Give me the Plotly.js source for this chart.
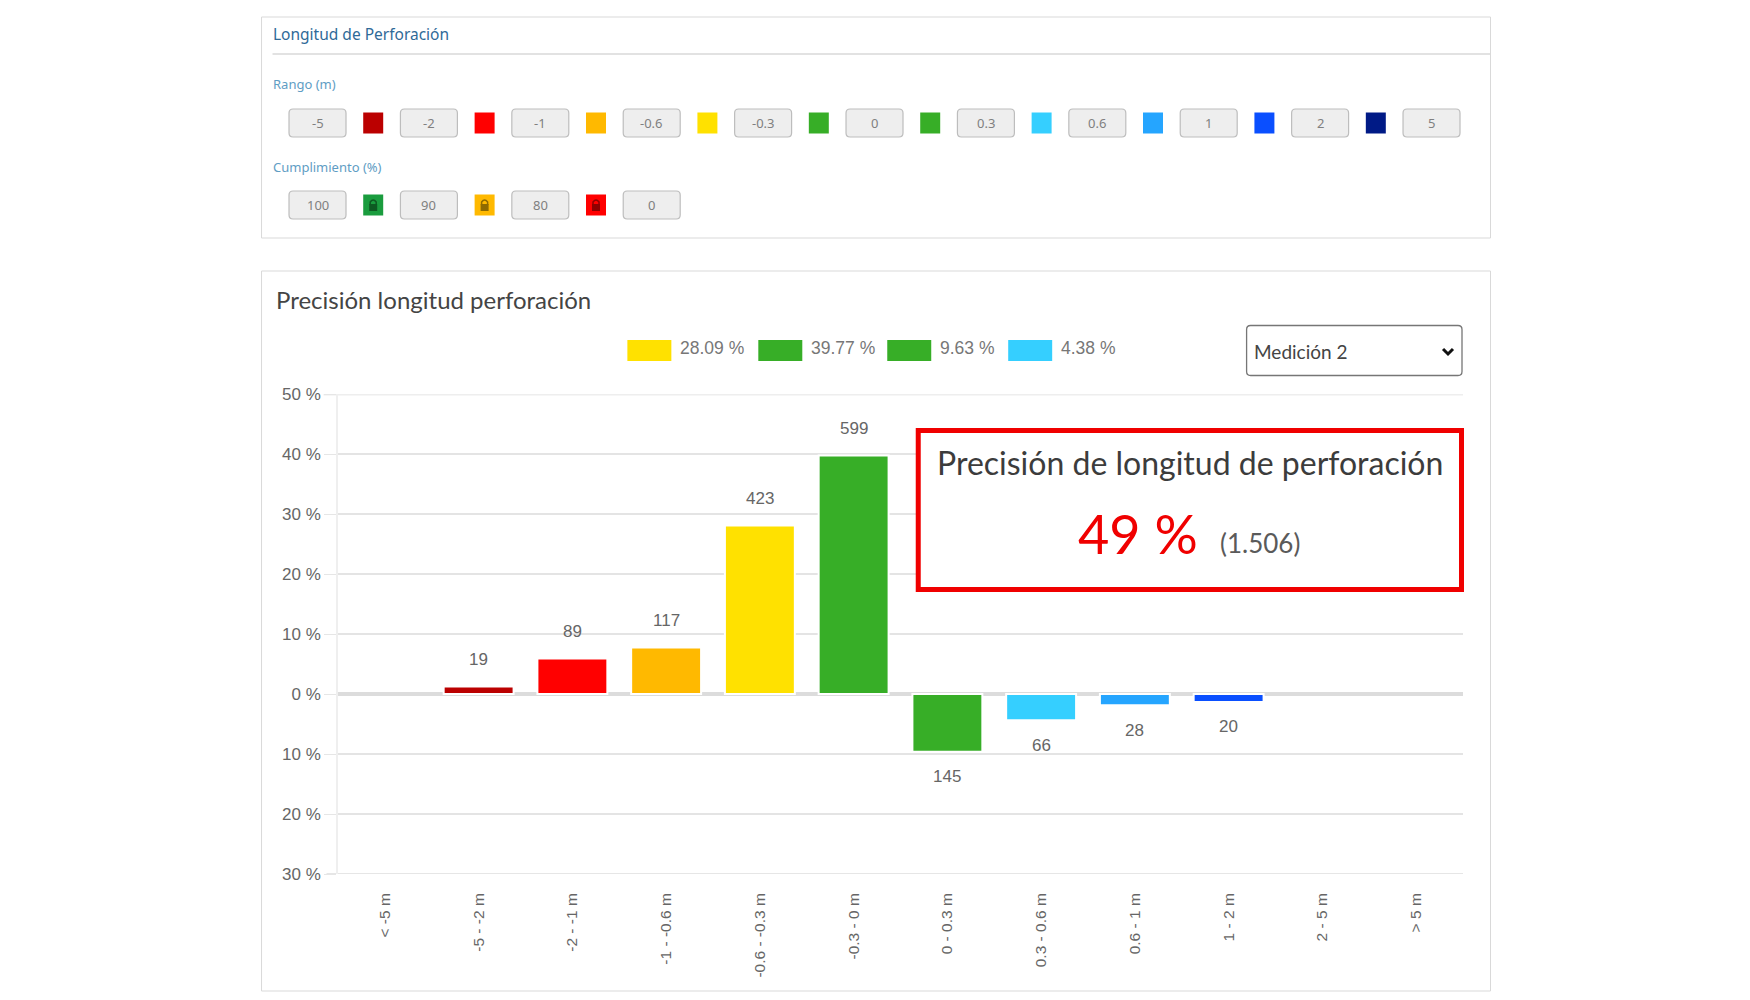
<!DOCTYPE html>
<html lang="es">
<head>
<meta charset="utf-8">
<title>Precisión longitud perforación</title>
<script src="https://cdn.plot.ly/plotly-3.0.1.min.js"></script>
<style>html,body{margin:0;padding:0;background:#fff}#chart{width:1750px;height:1000px}</style>
</head>
<body>
<div id="chart"></div>
<script>
// Chart data
const categories = ['&lt; -5 m','-5 - -2 m','-2 - -1 m','-1 - -0.6 m','-0.6 - -0.3 m','-0.3 - 0 m','0 - 0.3 m','0.3 - 0.6 m','0.6 - 1 m','1 - 2 m','2 - 5 m','> 5 m'];
const percents = [null,1.26,5.91,7.77,28.09,39.77,-9.63,-4.38,-1.86,-1.33,null,null];
const counts = [null,19,89,117,423,599,145,66,28,20,null,null];
const barColors = ['#bb0000','#bb0000','#ff0000','#ffb900','#ffe100','#37ae27','#37ae27','#35cfff','#25a5ff','#0a4fff','#001a86','#001a86'];
const yTickVals = [50,40,30,20,10,0,-10,-20,-30];
const yTickText = ['50 %','40 %','30 %','20 %','10 %','0 %','10 %','20 %','30 %'];
const legendLabels = ['28.09 %','39.77 %','9.63 %','4.38 %'];
const legendColors = ['#ffe100','#37ae27','#37ae27','#35cfff'];
// Threshold panel data
const rangeLabels = ['-5','-2','-1','-0.6','-0.3','0','0.3','0.6','1','2','5'];
const rangeColors = ['#bb0000','#ff0000','#ffb900','#ffe100','#37ae27','#37ae27','#35cfff','#25a5ff','#0a4fff','#001a86'];
const complianceLabels = ['100','90','80','0'];
const complianceColors = ['#1a9c3e','#ffb900','#ff0000'];
const lockColors = ['#0d5a22','#8f6a00','#8f0000'];

// Plot frame in page pixels
const L = 337.5, R = 1463, T = 394, B = 874;
const px = x => (x - L) / (R - L);
const py = y => (B - y) / (B - T);
const shapes = [], annotations = [];
const HEAD = 'Lato, Noto Sans, sans-serif';

function rect(x0, y0, x1, y1, fill, line, w) {
  shapes.push({type:'rect', xref:'paper', yref:'paper', x0:px(x0), x1:px(x1), y0:py(y0), y1:py(y1),
    fillcolor:fill, line:{color:line || fill, width:w === undefined ? 1 : w}});
}
function rrect(x0, y0, x1, y1, r, fill, line, w) {
  const X = v => px(v), Y = v => py(v);
  const p = `M ${X(x0+r)} ${Y(y0)} L ${X(x1-r)} ${Y(y0)} Q ${X(x1)} ${Y(y0)} ${X(x1)} ${Y(y0+r)} ` +
    `L ${X(x1)} ${Y(y1-r)} Q ${X(x1)} ${Y(y1)} ${X(x1-r)} ${Y(y1)} L ${X(x0+r)} ${Y(y1)} ` +
    `Q ${X(x0)} ${Y(y1)} ${X(x0)} ${Y(y1-r)} L ${X(x0)} ${Y(y0+r)} Q ${X(x0)} ${Y(y0)} ${X(x0+r)} ${Y(y0)} Z`;
  shapes.push({type:'path', xref:'paper', yref:'paper', path:p, fillcolor:fill, line:{color:line, width:w}});
}
function label(x, y, text, size, color, anchor, family) {
  annotations.push({xref:'paper', yref:'paper', x:px(x), y:py(y), text:text, showarrow:false,
    xanchor:anchor || 'left', yanchor:'middle', borderpad:0,
    font:{size:size, color:color, family:family || 'Noto Sans, sans-serif'}});
}
function lock(cx, cy, color) {
  rect(cx-4, cy-1, cx+4, cy+6, color, color, 0);
  shapes.push({type:'path', xref:'paper', yref:'paper',
    path:`M ${px(cx-3)} ${py(cy)} L ${px(cx-3)} ${py(cy-3)} Q ${px(cx)} ${py(cy-7)} ${px(cx+3)} ${py(cy-3)} L ${px(cx+3)} ${py(cy)}`,
    fillcolor:'rgba(0,0,0,0)', line:{color:color, width:1.5}});
}
function buttonRow(labels, colors, yMid, locks) {
  const step = 111.45, x0 = 288.5, w = 57, h = 28;
  labels.forEach((t, i) => {
    const x = x0 + i * step;
    rrect(x, yMid-h/2, x+w, yMid+h/2, 4, '#eeeeee', '#bdbdbd', 1.2);
    label(x+w/2, yMid, t, 13, '#808080', 'center');
    if (i < colors.length) {
      const cx = x + w/2 + step/2;
      rect(cx-10, yMid-10.5, cx+10, yMid+10.5, colors[i], colors[i], 0);
      if (locks) lock(cx, yMid, locks[i]);
    }
  });
}

// Top panel
rect(261, 17, 1490.5, 238, '#ffffff', '#d9d9d9', 1);
shapes.push({type:'line', xref:'paper', yref:'paper', x0:px(272), x1:px(1490), y0:py(54), y1:py(54), line:{color:'#e2e2e2', width:2}});
label(271, 34, 'Longitud de Perforación', 15.5, '#2f6a98');
label(271, 84, 'Rango (m)', 13, '#5f9dc4');
label(271, 167, 'Cumplimiento (%)', 13, '#5f9dc4');
buttonRow(rangeLabels, rangeColors, 123, null);
buttonRow(complianceLabels, complianceColors, 205, lockColors);

// Chart panel
shapes.push({type:'path', xref:'paper', yref:'paper', layer:'below',
  path:`M ${px(261)} ${py(271)} L ${px(1490.5)} ${py(271)} L ${px(1490.5)} ${py(991)} L ${px(261)} ${py(991)} Z`,
  fillcolor:'rgba(0,0,0,0)', line:{color:'#d9d9d9', width:1}});
label(274, 299, 'Precisión longitud perforación', 24, '#444444', 'left', HEAD);

// Axis extremes (Plotly omits grid lines on the range edges)
shapes.push({type:'line', xref:'paper', yref:'y', layer:'below', x0:px(323), x1:1, y0:50, y1:50, line:{color:'#eeeeee', width:3}});
shapes.push({type:'line', xref:'paper', yref:'y', layer:'below', x0:px(326), x1:1, y0:-30, y1:-30, line:{color:'#e6e6e6', width:2}});

// Custom legend row
const legendX = [627, 758, 887, 1008];
legendLabels.forEach((t, i) => {
  rect(legendX[i], 340, legendX[i]+44, 361, legendColors[i], legendColors[i], 0);
  label(legendX[i]+52, 348, t, 17.5, '#777777', 'left', 'Liberation Sans, Arial, sans-serif');
});

// Dropdown
rrect(1246.5, 325.5, 1462, 375.5, 4, '#ffffff', '#767676', 1.3);
label(1253, 351, 'Medición 2', 19, '#444444', 'left', HEAD);
shapes.push({type:'path', xref:'paper', yref:'paper',
  path:`M ${px(1443)} ${py(349)} L ${px(1448)} ${py(354)} L ${px(1453)} ${py(349)}`,
  fillcolor:'rgba(0,0,0,0)', line:{color:'#111111', width:3}});

// Callout
rect(918, 430.5, 1461.5, 589.5, '#ffffff', '#f00000', 5);
label(1190, 462, 'Precisión de longitud de perforación', 32, '#3c3c3c', 'center', HEAD);
label(1138, 533, '49 %', 54, '#f00000', 'center', HEAD);
label(1260, 543, '(1.506)', 26, '#5a5a5a', 'center', HEAD);

// Value labels above/below each bar
percents.forEach((v, i) => {
  if (v === null) return;
  annotations.push({xref:'x', yref:'y', x:categories[i], y:v, yshift:v > 0 ? 27 : -25, text:String(counts[i]),
    showarrow:false, xanchor:'center', yanchor:'middle',
    font:{size:17, color:'#666666', family:'Liberation Sans, Arial, sans-serif'}});
});

const trace = {type:'bar', x:categories, y:percents, hoverinfo:'x+y',
  marker:{color:barColors, line:{color:'#ffffff', width:2}}};

const layout = {
  width:1750, height:1000, autosize:false, showlegend:false,
  paper_bgcolor:'#ffffff', plot_bgcolor:'#ffffff',
  margin:{l:L, r:1750-R, t:T, b:1000-B, pad:0},
  bargap:0.254,
  font:{family:'Liberation Sans, Arial, sans-serif', color:'#666666'},
  xaxis:{type:'category', range:[-0.5,11.5], tickangle:-90, showgrid:false, zeroline:false, showline:false,
    ticks:'outside', ticklen:12, tickcolor:'rgba(255,255,255,0)', automargin:false,
    tickfont:{size:15.5, color:'#666666'}},
  yaxis:{range:[-30,50], tickmode:'array', tickvals:yTickVals, ticktext:yTickText,
    gridcolor:'#e4e4e4', gridwidth:1.5, zeroline:true, zerolinecolor:'#dcdcdc', zerolinewidth:4,
    showline:true, linecolor:'#efefef', linewidth:1.5, ticks:'outside', ticklen:12, tickcolor:'#e6e6e6', automargin:false,
    tickfont:{size:17, color:'#666666'}},
  shapes:shapes, annotations:annotations
};
Plotly.newPlot('chart', [trace], layout, {displayModeBar:false, responsive:false});
</script>
</body>
</html>
